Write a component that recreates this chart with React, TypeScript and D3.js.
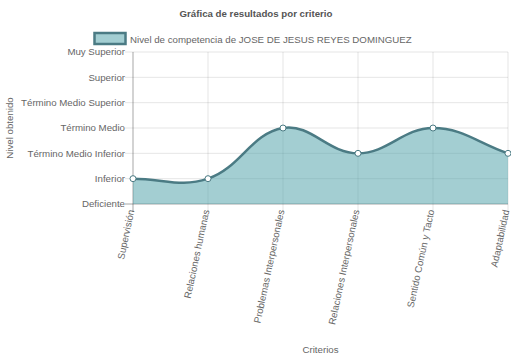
import React from "react";
import * as d3 from "d3";

const categories = [
  "Supervisión",
  "Relaciones humanas",
  "Problemas Interpersonales",
  "Relaciones Interpersonales",
  "Sentido Común y Tacto",
  "Adaptabilidad",
];
const levels = [
  "Deficiente",
  "Inferior",
  "Término Medio Inferior",
  "Término Medio",
  "Término Medio Superior",
  "Superior",
  "Muy Superior",
];
const values = [1, 1, 3, 2, 3, 2];
const seriesName = "Nivel de competencia de JOSE DE JESUS REYES DOMINGUEZ";

const W = 511;
const H = 359;
const left = 133;
const right = 508;
const top = 52;
const bottom = 204;
const FONT = "'Liberation Sans', Arial, Helvetica, sans-serif";
const FS = 9.7;
const LINE = "#4b7b84";
const FILL = "rgba(72,158,166,0.5)";

type P = { x: number; y: number };

function splinePath(pts: P[], tension: number, yMin: number, yMax: number): string {
  const cps = pts.map((cur, i) => {
    const prev = pts[Math.max(0, i - 1)];
    const next = pts[Math.min(pts.length - 1, i + 1)];
    const d01 = Math.hypot(cur.x - prev.x, cur.y - prev.y);
    const d12 = Math.hypot(next.x - cur.x, next.y - cur.y);
    let s01 = d01 / (d01 + d12);
    let s12 = d12 / (d01 + d12);
    if (isNaN(s01)) s01 = 0;
    if (isNaN(s12)) s12 = 0;
    const fa = tension * s01;
    const fb = tension * s12;
    const clampY = (v: number) => Math.max(yMin, Math.min(yMax, v));
    return {
      p: { x: cur.x - fa * (next.x - prev.x), y: clampY(cur.y - fa * (next.y - prev.y)) },
      n: { x: cur.x + fb * (next.x - prev.x), y: clampY(cur.y + fb * (next.y - prev.y)) },
    };
  });
  let d = `M${pts[0].x},${pts[0].y}`;
  for (let i = 1; i < pts.length; i++) {
    const c1 = cps[i - 1].n;
    const c2 = cps[i].p;
    d += `C${c1.x},${c1.y},${c2.x},${c2.y},${pts[i].x},${pts[i].y}`;
  }
  return d;
}

export default function App() {
  const x = d3.scalePoint<string>().domain(categories).range([left, right]);
  const y = d3.scaleLinear().domain([0, levels.length - 1]).range([bottom, top]);
  const pts: P[] = categories.map((c, i) => ({ x: x(c) as number, y: y(values[i]) }));
  const line = splinePath(pts, 0.4, top, bottom);
  const area = line + `L${pts[pts.length - 1].x},${bottom}L${pts[0].x},${bottom}Z`;

  return (
    <svg width={W} height={H} style={{ position: "absolute", left: 0, top: 0 }}>
      <rect width={W} height={H} fill="#fff" />
      <text x={256} y={17} textAnchor="middle" fontFamily={FONT} fontSize={FS} fontWeight="bold" fill="#555">
        Gráfica de resultados por criterio
      </text>
      <rect x={94.5} y={33} width={31} height={11} fill={FILL} stroke={LINE} strokeWidth={2.5} />
      <text x={130} y={43} fontFamily={FONT} fontSize={FS} fill="#666">
        {seriesName}
      </text>
      {levels.map((l, i) => (
        <g key={l}>
          <line x1={left - 8} x2={right} y1={y(i)} y2={y(i)} stroke="rgba(0,0,0,0.1)" strokeWidth={1} />
          <text x={left - 8} y={y(i)} dy="0.35em" textAnchor="end" fontFamily={FONT} fontSize={FS} fill="#666">
            {l}
          </text>
        </g>
      ))}
      {categories.map((c) => (
        <g key={c}>
          <line x1={x(c)} x2={x(c)} y1={top} y2={bottom + 8} stroke="rgba(0,0,0,0.1)" strokeWidth={1} />
          <text
            transform={`translate(${(x(c) as number) - 0.5},${bottom + 6}) rotate(-78)`}
            dy="0.2em"
            textAnchor="end"
            fontFamily={FONT}
            fontSize={FS}
            fill="#666"
          >
            {c}
          </text>
        </g>
      ))}
      <line x1={left} x2={left} y1={top} y2={bottom + 8} stroke="rgba(0,0,0,0.25)" strokeWidth={1} />
      <line x1={left - 8} x2={right} y1={bottom} y2={bottom} stroke="rgba(0,0,0,0.25)" strokeWidth={1} />
      <path d={area} fill={FILL} stroke="none" />
      <path d={line} fill="none" stroke={LINE} strokeWidth={2.5} />
      {pts.map((p, i) => (
        <circle key={i} cx={p.x} cy={p.y} r={3} fill="#fff" stroke={LINE} strokeWidth={1} />
      ))}
      <text
        transform={`translate(10,${(top + bottom) / 2}) rotate(-90)`}
        dy="0.35em"
        textAnchor="middle"
        fontFamily={FONT}
        fontSize={FS}
        fill="#666"
      >
        Nivel obtenido
      </text>
      <text x={(left + right) / 2} y={353} textAnchor="middle" fontFamily={FONT} fontSize={FS} fill="#666">
        Criterios
      </text>
    </svg>
  );
}
